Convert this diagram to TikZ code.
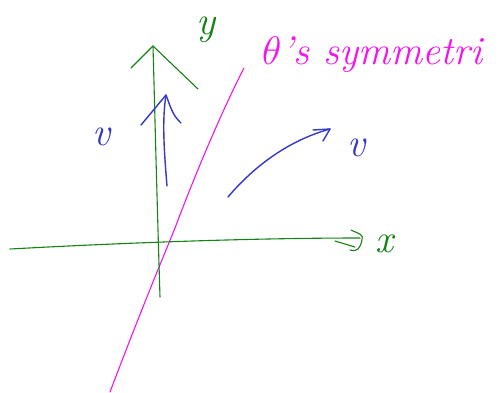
\RequirePackage{fix-cm}
\documentclass[tikz,border=0pt]{standalone}
\usetikzlibrary{calc}
\definecolor{pgreen}{RGB}{20,130,20}
\definecolor{pblue}{RGB}{55,55,200}
\definecolor{pmag}{RGB}{245,20,235}
\tikzset{
  axis/.style={draw=pgreen, line width=1.1pt, line cap=round, line join=round},
  bluestroke/.style={draw=pblue, line width=1.4pt, line cap=round, line join=round},
  magstroke/.style={draw=pmag, line width=1.1pt, line cap=round},
  hand/.style={font=\fontsize{40}{42}\selectfont\itshape, inner sep=0pt}
}
\begin{document}
\begin{tikzpicture}[x=1pt,y=-1pt]
\useasboundingbox[fill=white] (0,0) rectangle (503,392);
% coordinates
\coordinate (xs) at (10,249);
\coordinate (xe) at (360,238);
\coordinate (ys) at (160,297);
\coordinate (ye) at (153,46);
\coordinate (bs) at (167,186);
\coordinate (be) at (166,95);
\coordinate (cs) at (228,197);
\coordinate (ce) at (330,129);
\coordinate (ms) at (110,392);
\coordinate (me) at (244,68);
% magenta line
\draw[magstroke] (ms) .. controls (145,300) and (160,265) .. (175,228) .. controls (195,175) and (220,115) .. (me);
% green axes
\draw[axis] (xs) .. controls (120,243) and (250,238) .. (xe);
\draw[axis] (xe) ++(-9,-8) .. controls ++(8,4) and ++(2,-6) .. ++(11,10) .. controls ++(-2,8) and ++(8,2) .. ++(-12,10);
\draw[axis] (xe) ++(-25,3) -- ++(20,6);
\draw[axis] (ys) .. controls (157,200) and (155,120) .. (ye);
\draw[axis] (131,68) -- (ye) -- (198,89);
% blue arrows
\draw[bluestroke] (bs) .. controls (164,150) and (162,120) .. (be);
\draw[bluestroke] (141,125) -- (be) .. controls (170,105) and (172,115) .. (181,123);
\draw[bluestroke] (cs) .. controls (255,165) and (290,140) .. (ce);
\draw[bluestroke] (313,130) -- (ce) -- (323,141);
% labels
\node[hand, text=pgreen] (ylab) at (206,30) {y};
\node[hand, text=pgreen] (xlab) at (384,244) {x};
\node[hand, text=pblue] (v1) at (101,137) {v};
\node[hand, text=pblue] (v2) at (356,148) {v};
\node[hand, text=pmag, anchor=base west] (sym) at (262,64) {$\theta$'s symmetri};
\end{tikzpicture}
\end{document}
